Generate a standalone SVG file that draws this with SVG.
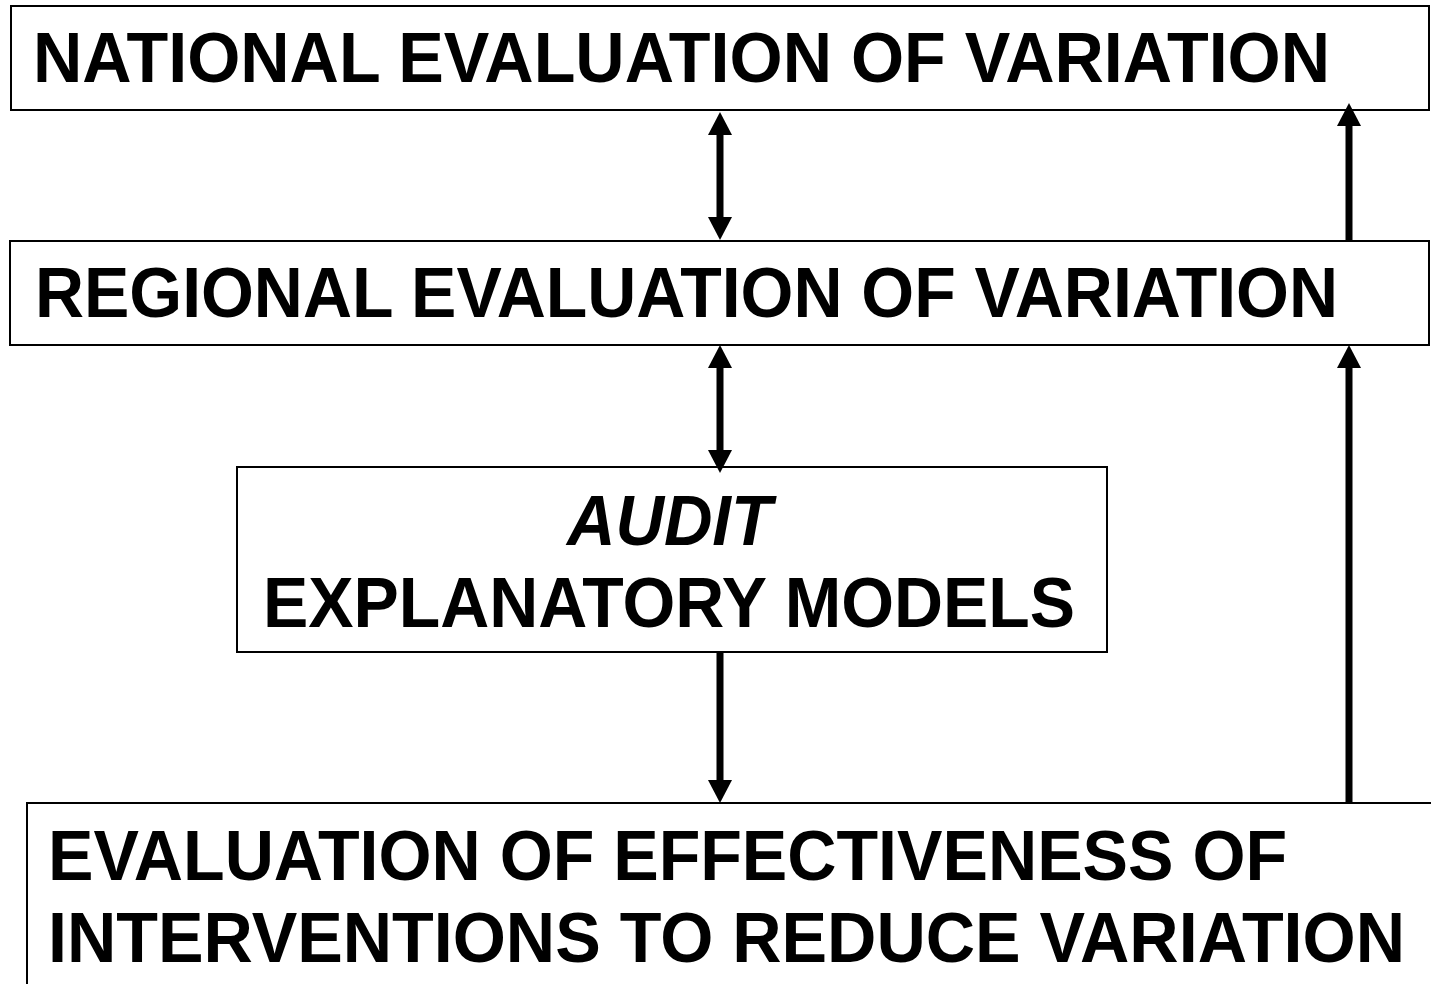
<svg xmlns="http://www.w3.org/2000/svg" width="1431" height="984" viewBox="0 0 1431 984">
  <style>
    .box { fill: #ffffff; stroke: #000000; stroke-width: 2; }
    .lbl { font-family: "Liberation Sans", Arial, sans-serif; font-weight: bold; font-size: 70px; fill: #000000; }
    .it { font-style: italic; }
    .link { stroke: #000000; stroke-width: 7; fill: none; }
    .tip { fill: #000000; }
  </style>
  <defs>
    <!-- arrowhead pointing up, tip at the origin -->
    <path id="up" class="tip" d="M0,0 L12,23 L-12,23 Z"/>
    <!-- arrowhead pointing down, tip at the origin -->
    <path id="down" class="tip" d="M0,0 L12,-23 L-12,-23 Z"/>
  </defs>

  <rect width="1431" height="984" fill="#ffffff"/>

  <g id="national">
    <rect class="box" x="11" y="6" width="1418" height="104"/>
    <text class="lbl" x="33" y="82" textLength="1297" lengthAdjust="spacingAndGlyphs">NATIONAL EVALUATION OF VARIATION</text>
  </g>

  <g id="regional">
    <rect class="box" x="10" y="241" width="1419" height="104"/>
    <text class="lbl" x="35" y="317" textLength="1303" lengthAdjust="spacingAndGlyphs">REGIONAL EVALUATION OF VARIATION</text>
  </g>

  <g id="audit">
    <rect class="box" x="237" y="467" width="870" height="185"/>
    <text class="lbl it" x="567" y="545" textLength="205" lengthAdjust="spacingAndGlyphs">AUDIT</text>
    <text class="lbl" x="263" y="627" textLength="812" lengthAdjust="spacingAndGlyphs">EXPLANATORY MODELS</text>
  </g>

  <g id="effectiveness">
    <rect class="box" x="27" y="803" width="1430" height="220"/>
    <text class="lbl" x="48" y="880" textLength="1239" lengthAdjust="spacingAndGlyphs">EVALUATION OF EFFECTIVENESS OF</text>
    <text class="lbl" x="48" y="962" textLength="1357" lengthAdjust="spacingAndGlyphs">INTERVENTIONS TO REDUCE VARIATION</text>
  </g>

  <g id="connectors">
    <!-- national <-> regional -->
    <line class="link" x1="720" y1="130" x2="720" y2="222"/>
    <use href="#up" x="720" y="112"/>
    <use href="#down" x="720" y="240"/>
    <!-- regional <-> audit -->
    <line class="link" x1="720" y1="363" x2="720" y2="455"/>
    <use href="#up" x="720" y="345"/>
    <use href="#down" x="720" y="473"/>
    <!-- audit -> effectiveness -->
    <line class="link" x1="720" y1="652" x2="720" y2="785"/>
    <use href="#down" x="720" y="803"/>
    <!-- regional -> national (right side) -->
    <line class="link" x1="1349" y1="241" x2="1349" y2="121"/>
    <use href="#up" x="1349" y="103"/>
    <!-- effectiveness -> regional (right side) -->
    <line class="link" x1="1349" y1="803" x2="1349" y2="363"/>
    <use href="#up" x="1349" y="345"/>
  </g>
</svg>
